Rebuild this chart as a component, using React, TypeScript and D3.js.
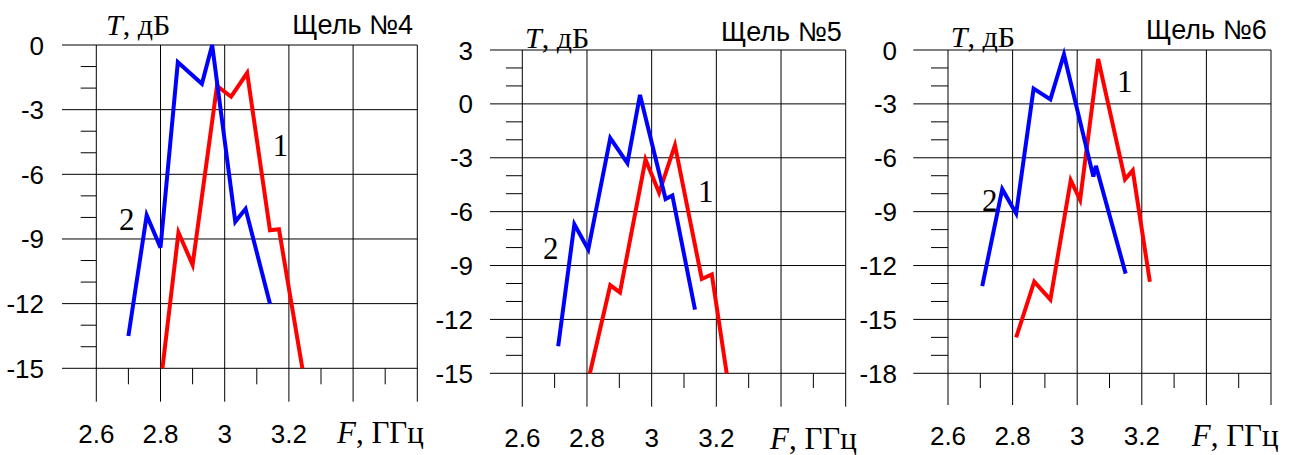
import React from "react";
import * as d3 from "d3";

// ---- data ----
const xTickValues = [2.6, 2.8, 3.0, 3.2, 3.4, 3.6];
const xTickLabels = ["2.6", "2.8", "3", "3.2"];
const xMinorValues = [2.7, 2.9, 3.1, 3.3, 3.5];

const titles = ["Щель №4", "Щель №5", "Щель №6"];
const yTicks4 = [0, -3, -6, -9, -12, -15];
const yTicks5 = [3, 0, -3, -6, -9, -12, -15];
const yTicks6 = [0, -3, -6, -9, -12, -15, -18];

// curve 2 (blue) and curve 1 (red): frequency, GHz / transmission, dB
const blue4F = [2.7, 2.757, 2.8, 2.854, 2.929, 2.961, 3.033, 3.065, 3.141];
const blue4T = [-13.5, -7.9, -9.4, -0.8, -1.8, 0, -8.2, -7.6, -12.0];
const red4F = [2.806, 2.856, 2.9, 2.976, 3.02, 3.07, 3.141, 3.169, 3.242];
const red4T = [-15, -8.7, -10.2, -1.9, -2.4, -1.3, -8.6, -8.55, -15];

const blue5F = [2.711, 2.761, 2.804, 2.872, 2.925, 2.964, 3.043, 3.064, 3.134];
const blue5T = [-13.5, -6.7, -8.1, -1.9, -3.3, 0.5, -5.3, -5.1, -11.45];
const red5F = [2.809, 2.872, 2.902, 2.981, 3.023, 3.072, 3.155, 3.186, 3.232];
const red5T = [-15, -10.1, -10.5, -3.1, -4.95, -2.3, -9.75, -9.5, -15];

const blue6F = [2.706, 2.768, 2.811, 2.865, 2.917, 2.959, 3.05, 3.058, 3.15];
const blue6T = [-13.15, -7.75, -9.1, -2.15, -2.75, -0.25, -7.05, -6.45, -12.45];
const red6F = [2.811, 2.867, 2.917, 2.98, 3.009, 3.065, 3.148, 3.172, 3.225];
const red6T = [-16, -12.9, -13.9, -7.25, -8.35, -0.5, -7.2, -6.7, -12.9];

// curve number labels, data coordinates [F, T]
const label1Pos = [[3.15, -5.15], [3.143, -5.45], [3.123, -2.32]];
const label2Pos = [[2.671, -8.58], [2.664, -8.64], [2.705, -8.96]];

// ---- layout ----
const layouts = [
  { x0: 96.3, x1: 417.3, yTop: 45, yBot: 368.3, majL: 62, minL: 80.7, majB: 401.7, minB: 384.3, yLabX: 44, xLabY: 443, titleX: 413, titleY: 34, tX: 106, tY: 35, fX: 337, fY: 443 },
  { x0: 522.3, x1: 845.7, yTop: 50, yBot: 373.3, majL: 490, minL: 506, majB: 406.7, minB: 388, yLabX: 473, xLabY: 446.7, titleX: 841.7, titleY: 41, tX: 525, tY: 48, fX: 770, fY: 449 },
  { x0: 948, x1: 1271, yTop: 50, yBot: 373.3, majL: 913.3, minL: 931, majB: 405, minB: 388, yLabX: 897, xLabY: 445, titleX: 1266.7, titleY: 39, tX: 950.7, tY: 47, fX: 1191.7, fY: 446 },
];

const SANS = "'Liberation Sans', Arial, sans-serif";
const SERIF = "'Liberation Serif', 'Times New Roman', serif";

function Panel({ idx }: { idx: number }) {
  const L = layouts[idx];
  const yTicks = [yTicks4, yTicks5, yTicks6][idx];
  const blueF = [blue4F, blue5F, blue6F][idx];
  const blueT = [blue4T, blue5T, blue6T][idx];
  const redF = [red4F, red5F, red6F][idx];
  const redT = [red4T, red5T, red6T][idx];
  const yMax = d3.max(yTicks)!;
  const yMin = d3.min(yTicks)!;
  const x = d3.scaleLinear().domain([2.6, 3.6]).range([L.x0, L.x1]);
  const y = d3.scaleLinear().domain([yMin, yMax]).range([L.yBot, L.yTop]);
  const minorY = d3.range(yMax, yMin - 0.5, -1).filter((v) => !yTicks.includes(v));
  const line = d3
    .line<[number, number]>()
    .x((d) => x(d[0]))
    .y((d) => y(d[1]));
  const blue = blueF.map((f, i) => [f, blueT[i]] as [number, number]);
  const red = redF.map((f, i) => [f, redT[i]] as [number, number]);
  const l1 = label1Pos[idx];
  const l2 = label2Pos[idx];
  return (
    <g>
      {yTicks.map((v) => (
        <line key={"h" + v} x1={L.majL} x2={L.x1} y1={y(v)} y2={y(v)} stroke="#000" strokeWidth={1} />
      ))}
      {minorY.map((v) => (
        <line key={"mh" + v} x1={L.minL} x2={L.x0} y1={y(v)} y2={y(v)} stroke="#000" strokeWidth={1} />
      ))}
      {xTickValues.map((v) => (
        <line key={"v" + v} x1={x(v)} x2={x(v)} y1={L.yTop} y2={L.majB} stroke="#000" strokeWidth={1} />
      ))}
      {xMinorValues.map((v) => (
        <line key={"mv" + v} x1={x(v)} x2={x(v)} y1={L.yBot} y2={L.minB} stroke="#000" strokeWidth={1} />
      ))}
      {yTicks.map((v) => (
        <text key={"yl" + v} x={L.yLabX} y={y(v) + 9.5} textAnchor="end" fontFamily={SANS} fontSize={26} fill="#000">
          {String(v)}
        </text>
      ))}
      {xTickLabels.map((s, i) => (
        <text key={"xl" + s} x={x(xTickValues[i])} y={L.xLabY} textAnchor="middle" fontFamily={SANS} fontSize={26} fill="#000">
          {s}
        </text>
      ))}
      <path d={line(red)!} fill="none" stroke="#ff0000" strokeWidth={4} strokeLinejoin="miter" />
      <path d={line(blue)!} fill="none" stroke="#0000ff" strokeWidth={4} strokeLinejoin="miter" />
      <text x={x(l1[0])} y={y(l1[1])} fontFamily={SERIF} fontSize={31} fill="#000">1</text>
      <text x={x(l2[0])} y={y(l2[1])} fontFamily={SERIF} fontSize={31} fill="#000">2</text>
      <text x={L.titleX} y={L.titleY} textAnchor="end" fontFamily={SANS} fontSize={27} fill="#000">
        {titles[idx]}
      </text>
      <text x={L.tX} y={L.tY} fontFamily={SERIF} fontSize={30} fill="#000">
        <tspan fontStyle="italic">T</tspan>, дБ
      </text>
      <text x={L.fX} y={L.fY} fontFamily={SERIF} fontSize={31} fill="#000">
        <tspan fontStyle="italic">F</tspan>, ГГц
      </text>
    </g>
  );
}

export default function App() {
  return (
    <svg
      width={1292}
      height={455}
      style={{ position: "absolute", left: 0, top: 0, background: "#fff" }}
      xmlns="http://www.w3.org/2000/svg"
    >
      <rect x={0} y={0} width={1292} height={455} fill="#fff" />
      {[0, 1, 2].map((i) => (
        <Panel key={i} idx={i} />
      ))}
    </svg>
  );
}
